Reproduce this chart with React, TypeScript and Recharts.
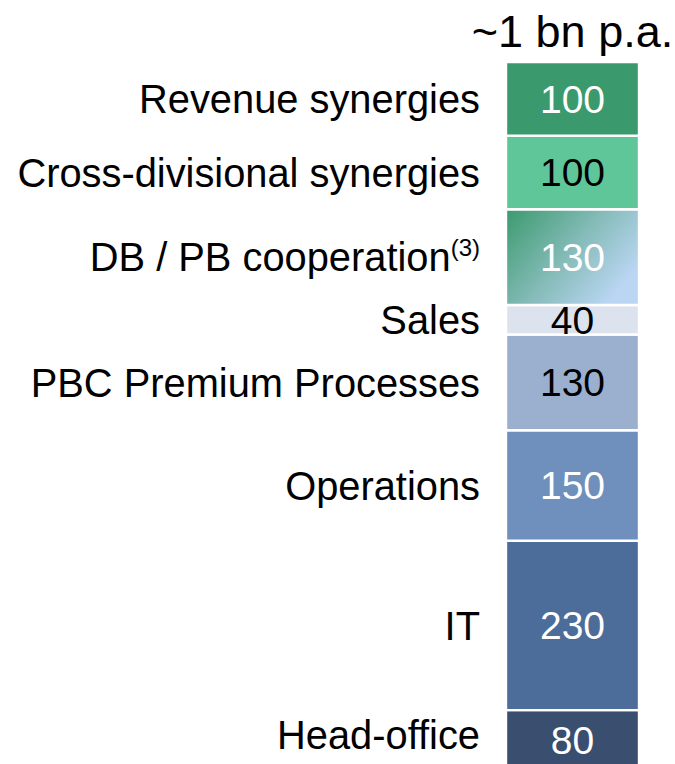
import React from "react";
import { BarChart, Bar, XAxis, YAxis, LabelList } from "recharts";

// Segments listed bottom to top (Recharts stacks the first series at the bottom)
const categories = [
  "Head-office",
  "IT",
  "Operations",
  "PBC Premium Processes",
  "Sales",
  "DB / PB cooperation",
  "Cross-divisional synergies",
  "Revenue synergies",
];
const values = [80, 230, 150, 130, 40, 130, 100, 100];
const superscripts = ["", "", "", "", "", "(3)", "", ""];
const fills = [
  "#3A4F6F",
  "#4C6C9A",
  "#6F8FBC",
  "#9BB0CF",
  "#DDE3EE",
  "url(#dbpbGrad)",
  "#5FC699",
  "#3A9A6E",
];
const valueColors = ["#fff", "#fff", "#fff", "#000", "#000", "#fff", "#000", "#fff"];
const title = "~1 bn p.a.";
const totalMax = 960;

const keys = categories.map((_, i) => `s${i}`);
const row: Record<string, number | string> = { name: "total" };
keys.forEach((k, i) => {
  row[k] = values[i];
});
const data = [row];

const FONT = '"Liberation Sans", Arial, Helvetica, sans-serif';

function makeLabel(i: number) {
  return (props: any) => {
    const x = Number(props.x);
    const y = Number(props.y);
    const w = Number(props.width);
    const h = Number(props.height);
    const top = Math.min(y, y + h);
    const cy = top + Math.abs(h) / 2;
    const catSize = 39.85;
    const valSize = 39;
    const catY = i === 0 ? cy - 5 : cy;
    return (
      <g>
        <text
          x={x + w / 2}
          y={cy + valSize * 0.358}
          textAnchor="middle"
          fill={valueColors[i]}
          fontSize={valSize}
          fontFamily={FONT}
        >
          {values[i]}
        </text>
        <text
          x={x - 26}
          y={catY + catSize * 0.358}
          textAnchor="end"
          fill="#000"
          fontSize={catSize}
          fontFamily={FONT}
        >
          {categories[i]}
          {superscripts[i] ? (
            <tspan fontSize={24} dy={-15}>
              {superscripts[i]}
            </tspan>
          ) : null}
        </text>
        {i === categories.length - 1 ? (
          <text
            x={x + w / 2}
            y={top - 15}
            textAnchor="middle"
            fill="#000"
            fontSize={45}
            fontFamily={FONT}
          >
            {title}
          </text>
        ) : null}
      </g>
    );
  };
}

export default function App() {
  return (
    <div
      style={{
        position: "absolute",
        left: 0,
        top: 0,
        width: 675,
        height: 764,
        overflow: "hidden",
        background: "#fff",
      }}
    >
      <BarChart
        width={675}
        height={780}
        data={data}
        margin={{ top: 62, right: 36, bottom: 11, left: 506 }}
        barCategoryGap={0}
        barGap={0}
      >
        <defs>
          <linearGradient id="dbpbGrad" x1="0" y1="0" x2="1" y2="0.6">
            <stop offset="0%" stopColor="#3B9A6E" />
            <stop offset="55%" stopColor="#85BBB8" />
            <stop offset="100%" stopColor="#BAD6F3" />
          </linearGradient>
        </defs>
        <XAxis dataKey="name" hide />
        <YAxis hide domain={[0, totalMax]} />
        {keys.map((k, i) => (
          <Bar
            key={k}
            dataKey={k}
            stackId="a"
            fill={fills[i]}
            stroke="#fff"
            strokeWidth={2.4}
            isAnimationActive={false}
          >
            <LabelList dataKey={k} content={makeLabel(i)} />
          </Bar>
        ))}
      </BarChart>
    </div>
  );
}
